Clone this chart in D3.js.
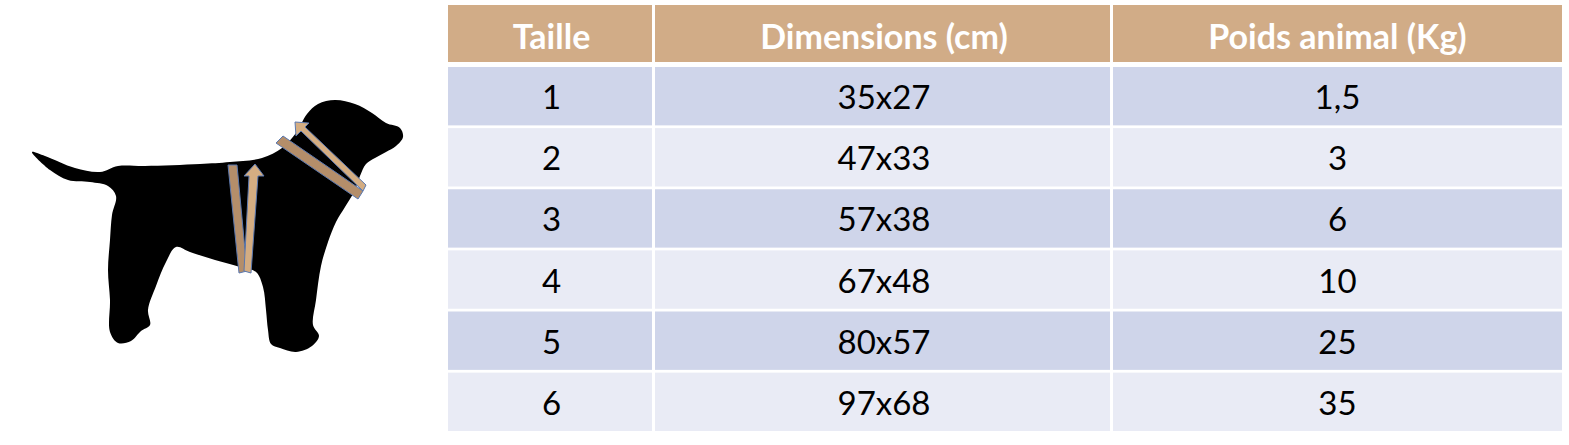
<!DOCTYPE html>
<html><head><meta charset="utf-8">
<script src="https://cdn.jsdelivr.net/npm/d3@7"></script>
<style>body{margin:0;background:#fff}svg{display:block}</style>
</head><body>
<svg id="chart" width="1569" height="445"></svg>
<script>
var headers = ["Taille", "Dimensions (cm)", "Poids animal (Kg)"];
var tailles = ["1", "2", "3", "4", "5", "6"];
var dimensions = ["35x27", "47x33", "57x38", "67x48", "80x57", "97x68"];
var poids = ["1,5", "3", "6", "10", "25", "35"];

var svg = d3.select("#chart");

// silhouette du chien
var dogPts = [[32,152],[45,156],[75,168],[100,172],[118,166],[145,166],[200,164],[230,162],[262,158],[282,148],[296,133],[307,114],[318,104],[335,100],[355,104],[372,113],[386,123],[400,128],[403,137],[396,146],[386,152],[375,158],[366,164],[360,176],[354,192],[345,207],[336,222],[328,242],[321,266],[316,300],[313,325],[319,336],[312,346],[296,352],[280,348],[271,344],[268,330],[266,310],[263,287],[256,272],[240,267],[215,260],[190,252],[176,247],[166,262],[156,286],[148,310],[150,325],[141,331],[131,341],[118,343],[110,332],[110,300],[108,270],[110,240],[112,215],[116,196],[108,186],[90,182],[68,180],[50,170]];
var dogLine = d3.line().curve(d3.curveCatmullRomClosed.alpha(0.5));
svg.append("path").attr("d", dogLine(dogPts)).attr("fill", "#000");
// sangles
svg.append("path").attr("d", "M228,165 L237,165 L247,271 L239,273 Z")
    .attr("fill", "#b48e6a").attr("stroke", "#5a78b0").attr("stroke-width", 1);
svg.append("path").attr("d", "M244,271 L249,176 L244,176 L255,164 L264,176 L258,176 L251,273 Z")
    .attr("fill", "#d4ad82").attr("stroke", "#5a78b0").attr("stroke-width", 1);
svg.append("path").attr("d", "M276,143 L283,136 L363,191 L358,199 Z")
    .attr("fill", "#b48e6a").attr("stroke", "#5a78b0").attr("stroke-width", 1);
svg.append("path").attr("d", "M363,191 L301,131 L296,136 L295,122 L309,123 L305,127 L366,185 Z")
    .attr("fill", "#d4ad82").attr("stroke", "#5a78b0").attr("stroke-width", 1);

// tableau
var colX = [448, 655, 1113, 1562];
var y = d3.scaleBand().domain(tailles).range([67, 431]).paddingInner(0.045);
var font = "Lato, 'Open Sans', sans-serif";

var head = svg.append("g");
headers.forEach(function (h, i) {
    head.append("rect").attr("x", colX[i]).attr("y", 5)
        .attr("width", colX[i + 1] - colX[i] - (i < 2 ? 3 : 0)).attr("height", 57)
        .attr("fill", "#d1ac87");
    head.append("text").attr("x", (colX[i] + colX[i + 1]) / 2).attr("y", 35)
        .attr("text-anchor", "middle").attr("dominant-baseline", "central")
        .attr("font-family", font).attr("font-weight", "bold").attr("font-size", 34)
        .attr("fill", "#fff").text(h);
});

var cols = [tailles, dimensions, poids];
tailles.forEach(function (t, r) {
    cols.forEach(function (c, i) {
        svg.append("rect").attr("x", colX[i]).attr("y", y(t))
            .attr("width", colX[i + 1] - colX[i] - (i < 2 ? 3 : 0)).attr("height", y.bandwidth())
            .attr("fill", r % 2 == 0 ? "#cfd5ea" : "#e9ebf5");
        svg.append("text").attr("x", (colX[i] + colX[i + 1]) / 2).attr("y", y(t) + y.bandwidth() / 2)
            .attr("text-anchor", "middle").attr("dominant-baseline", "central")
            .attr("font-family", font).attr("font-size", 33)
            .attr("fill", "#000").text(c[r]);
    });
});
</script>
</body></html>
